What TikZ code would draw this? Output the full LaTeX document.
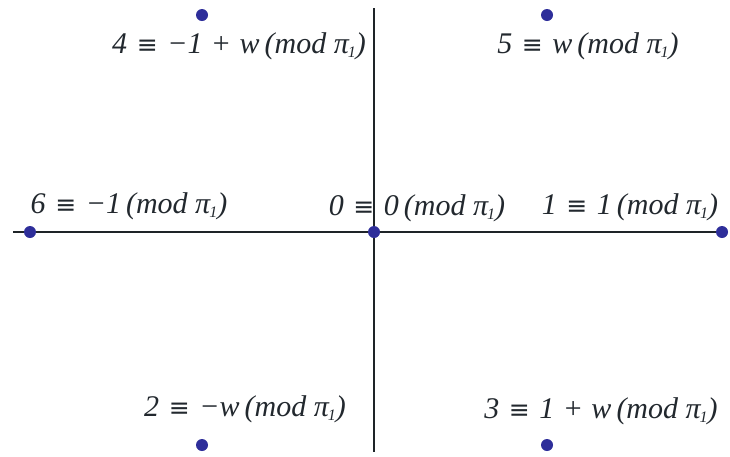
\documentclass[tikz,border=0pt]{standalone}
\usepackage{fontspec}
\setmainfont{Liberation Serif}
\newfontfamily\symfont{DejaVu Sans}
\definecolor{dotblue}{HTML}{2E2E9A}
\definecolor{axisgray}{HTML}{1E2428}
\definecolor{txt}{HTML}{22282E}
\newcommand\pione{π\kern-1pt\raisebox{-0.3ex}{\fontsize{16}{16}\selectfont\itshape 1}}
\newcommand\eqv{\hspace{0.32em}{\symfont\fontsize{25}{25}\selectfont ≡}\hspace{0.32em}}
\newcommand\pls{\hspace{0.28em}+\hspace{0.28em}}
\begin{document}
\begin{tikzpicture}[x=1pt,y=-1pt,
  pt/.style={circle,fill=dotblue,inner sep=0pt,minimum size=12pt},
  lbl/.style={text=txt,font=\fontsize{30}{32}\selectfont\itshape,inner sep=0pt},
  axis/.style={draw=axisgray,line width=2.6pt}]
\useasboundingbox (0,0) rectangle (730,456);
\fill[white] (0,0) rectangle (730,456);
\coordinate (vt) at (374,8);
\coordinate (vb) at (374,452);
\coordinate (hl) at (13,232);
\coordinate (hr) at (725,232);
\draw[axis] (vt) -- (vb);
\draw[axis] (hl) -- (hr);
\node[pt] (p4) at (202,15) {};
\node[pt] (p5) at (547,15) {};
\node[pt] (p6) at (30,232) {};
\node[pt] (p0) at (374,232) {};
\node[pt] (p1) at (722,232) {};
\node[pt] (p2) at (202,445) {};
\node[pt] (p3) at (547,445) {};
\node[lbl] (l4) at (239,46) {4\eqv−1\pls w\,(mod \pione)};
\node[lbl] (l5) at (588,46) {5\eqv w\,(mod \pione)};
\node[lbl] (l6) at (129,206) {6\eqv−1\,(mod \pione)};
\node[lbl] (l0) at (417,208) {0\eqv 0\,(mod \pione)};
\node[lbl] (l1) at (630,207) {1\eqv 1\,(mod \pione)};
\node[lbl] (l2) at (245,409) {2\eqv−w\,(mod \pione)};
\node[lbl] (l3) at (601,411) {3\eqv 1\pls w\,(mod \pione)};
\end{tikzpicture}
\end{document}
